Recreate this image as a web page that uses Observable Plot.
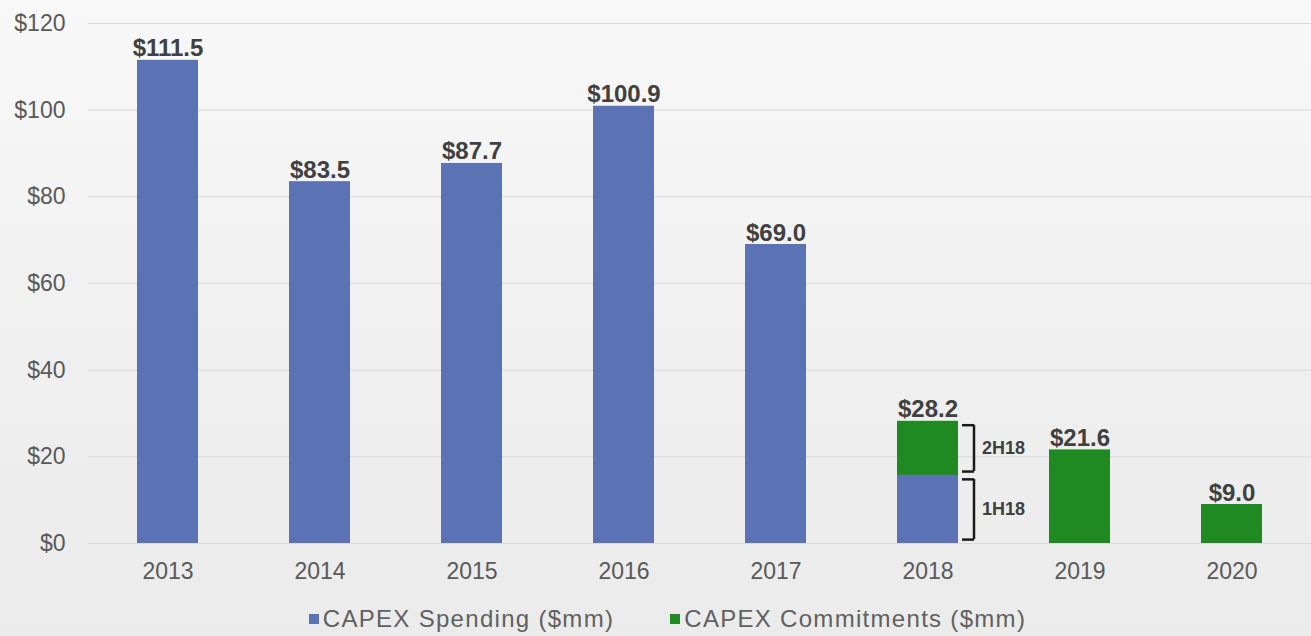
<!DOCTYPE html>
<html>
<head>
<meta charset="utf-8">
<script src="https://cdn.jsdelivr.net/npm/d3@7"></script>
<script src="https://cdn.jsdelivr.net/npm/@observablehq/plot@0.6"></script>
<style>
  html, body { margin: 0; padding: 0; }
  body { width: 1311px; height: 636px; overflow: hidden;
         background: linear-gradient(to bottom, #f8f8f8 0%, #efefef 60%, #ebebeb 100%);
         font-family: "Liberation Sans", Arial, sans-serif; }
  #legend { display: flex; justify-content: center; gap: 56px; font-size: 24px; color: #606060;
            margin-top: 15px; padding-left: 24px; letter-spacing: 1.3px; line-height: 28px; }
  #legend span.item { display: flex; align-items: center; }
  #legend span.sw { display: inline-block; width: 10px; height: 10px; margin-right: 4px; }
</style>
</head>
<body>
<div id="chart"></div>
<div id="legend"></div>
<script>
const years = ["2013", "2014", "2015", "2016", "2017", "2018", "2019", "2020"];
const spending = [111.5, 83.5, 87.7, 100.9, 69.0, 15.7, 0, 0];
const commitments = [0, 0, 0, 0, 0, 12.5, 21.6, 9.0];
const totals = [111.5, 83.5, 87.7, 100.9, 69.0, 28.2, 21.6, 9.0];
const yTicks = [0, 20, 40, 60, 80, 100, 120];
const seriesNames = ["CAPEX Spending ($mm)", "CAPEX Commitments ($mm)"];
const colors = ["#5B73B5", "#1F8A22"];
const halves = [{label: "2H18", lo: 15.7, hi: 28.2}, {label: "1H18", lo: 0, hi: 15.7}];

const rows = [];
years.forEach((y, i) => {
  if (spending[i] > 0) rows.push({year: y, series: seriesNames[0], value: spending[i]});
  if (commitments[i] > 0) rows.push({year: y, series: seriesNames[1], value: commitments[i]});
});
const labels = years.map((y, i) => ({year: y, total: totals[i]}));

const bracketVert = halves.map(h => ({year: "2018", y1: h.lo + 0.9, y2: h.hi - 0.9}));
const bracketTicks = halves.flatMap(h => [{year: "2018", y: h.lo + 0.9}, {year: "2018", y: h.hi - 0.9}]);
const bracketLabels = halves.map(h => ({year: "2018", y: (h.lo + h.hi) / 2, label: h.label}));

const chart = Plot.plot({
  width: 1311,
  height: 590,
  marginTop: 23,
  marginBottom: 47,
  marginLeft: 88,
  marginRight: 0,
  style: {background: "transparent", fontFamily: "Liberation Sans, Arial, sans-serif", fontSize: "23px", color: "#595959"},
  x: {domain: years, paddingInner: 0.6, paddingOuter: 0.3, label: null, tickSize: 0, tickPadding: 19},
  y: {domain: [0, 120], ticks: yTicks, label: null, tickSize: 0, tickPadding: 23,
      tickFormat: d => "$" + d},
  color: {domain: seriesNames, range: colors},
  marks: [
    Plot.ruleY(yTicks, {stroke: "#d9d9d9", strokeWidth: 1}),
    Plot.barY(rows, {x: "year", y: "value", fill: "series", order: seriesNames}),
    Plot.text(labels, {x: "year", y: "total", text: d => "$" + d.total.toFixed(1),
      lineAnchor: "bottom", dy: -4, fontSize: 24, fontWeight: "bold", fill: "#404040"}),
    Plot.ruleX(bracketVert, {x: "year", y1: "y1", y2: "y2", dx: 46, stroke: "#1a1a1a", strokeWidth: 2.5}),
    Plot.tickY(bracketTicks, {x: "year", y: "y", dx: 65, insetRight: 49, stroke: "#1a1a1a", strokeWidth: 2.5}),
    Plot.text(bracketLabels, {x: "year", y: "y", text: "label", dx: 54, textAnchor: "start",
      fontSize: 18, fontWeight: "bold", fill: "#404040"})
  ]
});
document.getElementById("chart").appendChild(chart);

const legend = document.getElementById("legend");
seriesNames.forEach((name, i) => {
  const item = document.createElement("span");
  item.className = "item";
  const sw = document.createElement("span");
  sw.className = "sw";
  sw.style.background = colors[i];
  item.appendChild(sw);
  item.appendChild(document.createTextNode(name));
  legend.appendChild(item);
});
</script>
</body>
</html>
